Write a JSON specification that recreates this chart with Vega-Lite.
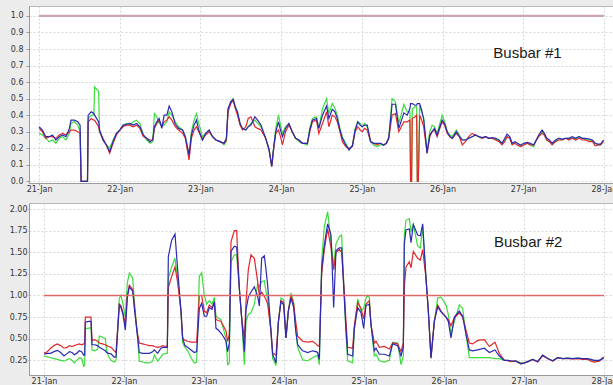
{
  "$schema": "https://vega.github.io/schema/vega-lite/v6.json",
  "background": "#ececec",
  "padding": {"left": 7, "top": 5, "right": 0, "bottom": 0},
  "spacing": 6,
  "datasets": {
    "busbar1": [
      {"h":0,"r":0.32,"g":0.29,"b":0.33},{"h":1,"r":0.30,"g":0.28,"b":0.31},{"h":2,"r":0.26,"g":0.26,"b":0.27},
      {"h":3,"r":0.27,"g":0.24,"b":0.27},{"h":4,"r":0.27,"g":0.25,"b":0.28},{"h":5,"r":0.26,"g":0.23,"b":0.25},
      {"h":6,"r":0.28,"g":0.26,"b":0.27},{"h":7,"r":0.29,"g":0.27,"b":0.28},{"h":8,"r":0.28,"g":0.25,"b":0.27},
      {"h":9,"r":0.30,"g":0.29,"b":0.32},{"h":9.5,"r":0.31,"g":0.35,"b":0.37},{"h":10.5,"r":0.31,"g":0.36,"b":0.37},
      {"h":11.5,"r":0.30,"g":0.34,"b":0.36},{"h":12.2,"r":0.29,"g":0.30,"b":0.34},{"h":12.5,"r":0,"g":0,"b":0},
      {"h":14.4,"r":0,"g":0,"b":0},{"h":14.6,"r":0.36,"g":0.38,"b":0.40},{"h":15.5,"r":0.38,"g":0.40,"b":0.42},
      {"h":16.3,"r":0.37,"g":0.40,"b":0.41},{"h":16.5,"r":0.37,"g":0.57,"b":0.40},{"h":17.7,"r":0.33,"g":0.545,"b":0.36},
      {"h":18.0,"r":0.30,"g":0.30,"b":0.31},{"h":19,"r":0.26,"g":0.25,"b":0.25},{"h":20,"r":0.22,"g":0.22,"b":0.22},
      {"h":21,"r":0.17,"g":0.20,"b":0.18},{"h":22,"r":0.23,"g":0.25,"b":0.24},{"h":23,"r":0.28,"g":0.29,"b":0.29},
      {"h":24,"r":0.31,"g":0.31,"b":0.31},{"h":25,"r":0.33,"g":0.34,"b":0.34},{"h":26,"r":0.34,"g":0.35,"b":0.345},
      {"h":27,"r":0.34,"g":0.34,"b":0.35},{"h":28,"r":0.33,"g":0.36,"b":0.34},{"h":29,"r":0.34,"g":0.37,"b":0.35},
      {"h":30,"r":0.32,"g":0.35,"b":0.33},{"h":31,"r":0.27,"g":0.28,"b":0.28},{"h":32,"r":0.26,"g":0.25,"b":0.26},
      {"h":33,"r":0.25,"g":0.23,"b":0.24},{"h":33.8,"r":0.25,"g":0.24,"b":0.25},{"h":34.3,"r":0.32,"g":0.41,"b":0.33},
      {"h":35,"r":0.35,"g":0.39,"b":0.36},{"h":35.7,"r":0.37,"g":0.35,"b":0.38},{"h":36.5,"r":0.33,"g":0.34,"b":0.32},
      {"h":37.2,"r":0.36,"g":0.34,"b":0.40},{"h":38,"r":0.37,"g":0.36,"b":0.40},{"h":38.7,"r":0.39,"g":0.42,"b":0.455},
      {"h":39.5,"r":0.37,"g":0.40,"b":0.42},{"h":40.5,"r":0.33,"g":0.36,"b":0.345},{"h":41.5,"r":0.31,"g":0.33,"b":0.32},
      {"h":42.7,"r":0.29,"g":0.31,"b":0.31},{"h":43.5,"r":0.26,"g":0.27,"b":0.27},{"h":44.6,"r":0.13,"g":0.16,"b":0.16},
      {"h":45.3,"r":0.26,"g":0.30,"b":0.28},{"h":46.1,"r":0.31,"g":0.37,"b":0.34},{"h":46.8,"r":0.33,"g":0.41,"b":0.37},
      {"h":47.5,"r":0.30,"g":0.35,"b":0.31},{"h":48.6,"r":0.25,"g":0.27,"b":0.25},{"h":49.5,"r":0.28,"g":0.29,"b":0.29},
      {"h":50.6,"r":0.30,"g":0.30,"b":0.31},{"h":51.6,"r":0.27,"g":0.27,"b":0.27},{"h":52.6,"r":0.25,"g":0.25,"b":0.25},
      {"h":53.8,"r":0.24,"g":0.24,"b":0.24},{"h":55,"r":0.23,"g":0.22,"b":0.23},{"h":55.7,"r":0.25,"g":0.24,"b":0.26},
      {"h":56.2,"r":0.42,"g":0.43,"b":0.44},{"h":57,"r":0.47,"g":0.48,"b":0.48},{"h":57.7,"r":0.49,"g":0.50,"b":0.495},
      {"h":58.4,"r":0.44,"g":0.44,"b":0.45},{"h":59,"r":0.40,"g":0.42,"b":0.42},{"h":59.8,"r":0.34,"g":0.34,"b":0.35},
      {"h":60.5,"r":0.31,"g":0.32,"b":0.32},{"h":61.5,"r":0.33,"g":0.31,"b":0.31},{"h":62.2,"r":0.38,"g":0.33,"b":0.33},
      {"h":63,"r":0.39,"g":0.35,"b":0.34},{"h":64.2,"r":0.33,"g":0.37,"b":0.39},{"h":65,"r":0.32,"g":0.35,"b":0.37},
      {"h":66,"r":0.31,"g":0.33,"b":0.34},{"h":67.4,"r":0.26,"g":0.26,"b":0.26},{"h":68.4,"r":0.19,"g":0.20,"b":0.19},
      {"h":69.2,"r":0.09,"g":0.09,"b":0.09},{"h":69.8,"r":0.20,"g":0.21,"b":0.21},{"h":70.4,"r":0.29,"g":0.32,"b":0.30},
      {"h":71.2,"r":0.31,"g":0.40,"b":0.36},{"h":71.8,"r":0.27,"g":0.34,"b":0.31},{"h":72.4,"r":0.22,"g":0.29,"b":0.27},
      {"h":73.3,"r":0.30,"g":0.33,"b":0.32},{"h":74.3,"r":0.34,"g":0.35,"b":0.35},{"h":75.3,"r":0.30,"g":0.30,"b":0.30},
      {"h":76.3,"r":0.26,"g":0.26,"b":0.26},{"h":77.3,"r":0.25,"g":0.24,"b":0.25},{"h":78.3,"r":0.23,"g":0.23,"b":0.23},
      {"h":79.8,"r":0.23,"g":0.22,"b":0.23},{"h":80.5,"r":0.30,"g":0.32,"b":0.31},{"h":81.3,"r":0.36,"g":0.38,"b":0.37},
      {"h":82.5,"r":0.37,"g":0.39,"b":0.38},{"h":83.2,"r":0.29,"g":0.32,"b":0.32},{"h":84.3,"r":0.35,"g":0.44,"b":0.40},
      {"h":85.5,"r":0.42,"g":0.50,"b":0.455},{"h":86.2,"r":0.33,"g":0.41,"b":0.38},{"h":87.2,"r":0.40,"g":0.47,"b":0.436},
      {"h":88,"r":0.39,"g":0.44,"b":0.42},{"h":88.7,"r":0.36,"g":0.40,"b":0.38},{"h":89.5,"r":0.30,"g":0.32,"b":0.31},
      {"h":90.2,"r":0.24,"g":0.27,"b":0.26},{"h":91.2,"r":0.21,"g":0.23,"b":0.22},{"h":92.2,"r":0.20,"g":0.19,"b":0.19},
      {"h":93.2,"r":0.21,"g":0.22,"b":0.215},{"h":94.0,"r":0.30,"g":0.32,"b":0.31},{"h":94.8,"r":0.33,"g":0.36,"b":0.36},
      {"h":95.5,"r":0.31,"g":0.35,"b":0.34},{"h":96.1,"r":0.30,"g":0.33,"b":0.33},{"h":96.8,"r":0.32,"g":0.35,"b":0.34},
      {"h":97.6,"r":0.31,"g":0.33,"b":0.34},{"h":98.6,"r":0.24,"g":0.24,"b":0.24},{"h":99.5,"r":0.23,"g":0.22,"b":0.23},
      {"h":100.5,"r":0.22,"g":0.21,"b":0.23},{"h":101.5,"r":0.23,"g":0.22,"b":0.23},{"h":102.5,"r":0.22,"g":0.22,"b":0.22},
      {"h":103.3,"r":0.23,"g":0.23,"b":0.23},{"h":104,"r":0.26,"g":0.27,"b":0.26},{"h":105,"r":0.40,"g":0.50,"b":0.466},
      {"h":106,"r":0.41,"g":0.48,"b":0.466},{"h":107,"r":0.30,"g":0.35,"b":0.32},{"h":108.5,"r":0.36,"g":0.466,"b":0.414},
      {"h":109.5,"r":0.36,"g":0.42,"b":0.40},{"h":110.3,"r":0.37,"g":0.42,"b":0.44},{"h":110.5,"r":0,"g":0,"b":0.47},
      {"h":110.8,"r":0,"g":0,"b":0.47},{"h":111,"r":0.38,"g":0.44,"b":0.47},{"h":111.8,"r":0.39,"g":0.45,"b":0.46},
      {"h":112.3,"r":0.40,"g":0.45,"b":0.46},{"h":112.5,"r":0,"g":0,"b":0.47},{"h":112.8,"r":0,"g":0,"b":0.47},
      {"h":113.2,"r":0.40,"g":0.46,"b":0.47},{"h":113.8,"r":0.37,"g":0.42,"b":0.43},{"h":114.4,"r":0.33,"g":0.38,"b":0.374},
      {"h":115.4,"r":0.17,"g":0.18,"b":0.17},{"h":116.2,"r":0.27,"g":0.30,"b":0.28},{"h":116.9,"r":0.30,"g":0.34,"b":0.30},
      {"h":117.6,"r":0.31,"g":0.33,"b":0.32},{"h":118.4,"r":0.27,"g":0.29,"b":0.28},{"h":119.2,"r":0.32,"g":0.35,"b":0.33},
      {"h":119.9,"r":0.36,"g":0.40,"b":0.37},{"h":120.6,"r":0.34,"g":0.36,"b":0.35},{"h":121.4,"r":0.29,"g":0.30,"b":0.30},
      {"h":122.2,"r":0.27,"g":0.28,"b":0.27},{"h":122.9,"r":0.26,"g":0.27,"b":0.26},{"h":124.1,"r":0.29,"g":0.31,"b":0.30},
      {"h":125,"r":0.27,"g":0.28,"b":0.27},{"h":125.9,"r":0.22,"g":0.25,"b":0.25},{"h":126.8,"r":0.24,"g":0.25,"b":0.25},
      {"h":127.8,"r":0.27,"g":0.26,"b":0.26},{"h":128.8,"r":0.29,"g":0.27,"b":0.27},{"h":129.8,"r":0.28,"g":0.28,"b":0.28},
      {"h":130.8,"r":0.27,"g":0.27,"b":0.27},{"h":131.8,"r":0.26,"g":0.26,"b":0.265},{"h":132.8,"r":0.27,"g":0.27,"b":0.27},
      {"h":133.8,"r":0.26,"g":0.26,"b":0.26},{"h":134.8,"r":0.26,"g":0.26,"b":0.265},{"h":135.8,"r":0.25,"g":0.255,"b":0.26},
      {"h":136.8,"r":0.24,"g":0.245,"b":0.25},{"h":137.7,"r":0.22,"g":0.23,"b":0.23},{"h":138.5,"r":0.24,"g":0.25,"b":0.26},
      {"h":139.2,"r":0.27,"g":0.27,"b":0.285},{"h":140,"r":0.26,"g":0.26,"b":0.27},{"h":140.7,"r":0.22,"g":0.23,"b":0.23},
      {"h":141.5,"r":0.23,"g":0.23,"b":0.24},{"h":142.3,"r":0.22,"g":0.22,"b":0.23},{"h":143.2,"r":0.21,"g":0.21,"b":0.22},
      {"h":144.2,"r":0.22,"g":0.22,"b":0.23},{"h":145.2,"r":0.23,"g":0.23,"b":0.235},{"h":146.1,"r":0.22,"g":0.22,"b":0.23},
      {"h":147.1,"r":0.22,"g":0.21,"b":0.22},{"h":147.9,"r":0.25,"g":0.25,"b":0.25},{"h":148.6,"r":0.27,"g":0.27,"b":0.28},
      {"h":149.6,"r":0.29,"g":0.30,"b":0.31},{"h":150.3,"r":0.28,"g":0.28,"b":0.29},{"h":151,"r":0.25,"g":0.25,"b":0.26},
      {"h":151.8,"r":0.24,"g":0.24,"b":0.25},{"h":152.6,"r":0.22,"g":0.23,"b":0.23},{"h":153.6,"r":0.24,"g":0.24,"b":0.25},
      {"h":154.6,"r":0.25,"g":0.26,"b":0.26},{"h":155.6,"r":0.25,"g":0.25,"b":0.255},{"h":156.6,"r":0.26,"g":0.26,"b":0.26},
      {"h":157.6,"r":0.25,"g":0.26,"b":0.26},{"h":158.6,"r":0.26,"g":0.26,"b":0.27},{"h":159.6,"r":0.25,"g":0.26,"b":0.26},
      {"h":160.6,"r":0.26,"g":0.27,"b":0.27},{"h":161.6,"r":0.25,"g":0.26,"b":0.26},{"h":162.6,"r":0.25,"g":0.25,"b":0.26},
      {"h":163.6,"r":0.24,"g":0.25,"b":0.255},{"h":164.6,"r":0.24,"g":0.245,"b":0.25},{"h":165.4,"r":0.215,"g":0.23,"b":0.23},
      {"h":166.2,"r":0.22,"g":0.22,"b":0.225},{"h":167,"r":0.22,"g":0.22,"b":0.225},{"h":167.9,"r":0.24,"g":0.25,"b":0.25}
    ],
    "busbar2": [
      {"h":0,"r":0.33,"g":0.30,"b":0.32},{"h":1,"r":0.35,"g":0.29,"b":0.33},{"h":2,"r":0.39,"g":0.28,"b":0.33},
      {"h":3,"r":0.42,"g":0.27,"b":0.35},{"h":4,"r":0.44,"g":0.26,"b":0.365},{"h":5,"r":0.42,"g":0.25,"b":0.34},
      {"h":6,"r":0.39,"g":0.24,"b":0.30},{"h":7,"r":0.40,"g":0.26,"b":0.33},{"h":7.6,"r":0.42,"g":0.27,"b":0.35},
      {"h":8.4,"r":0.41,"g":0.25,"b":0.34},{"h":9.1,"r":0.42,"g":0.22,"b":0.315},{"h":9.8,"r":0.43,"g":0.25,"b":0.33},
      {"h":10.6,"r":0.44,"g":0.28,"b":0.36},{"h":11.3,"r":0.43,"g":0.27,"b":0.35},{"h":11.9,"r":0.44,"g":0.18,"b":0.31},
      {"h":12.2,"r":0.44,"g":0.19,"b":0.31},{"h":12.4,"r":0.75,"g":0.62,"b":0.69},{"h":13.3,"r":0.75,"g":0.62,"b":0.70},
      {"h":14.1,"r":0.75,"g":0.63,"b":0.70},{"h":14.4,"r":0.48,"g":0.37,"b":0.43},{"h":15.2,"r":0.49,"g":0.36,"b":0.43},
      {"h":16.1,"r":0.47,"g":0.38,"b":0.42},{"h":16.6,"r":0.45,"g":0.53,"b":0.40},{"h":17.5,"r":0.44,"g":0.52,"b":0.38},
      {"h":18.4,"r":0.43,"g":0.50,"b":0.36},{"h":18.8,"r":0.42,"g":0.36,"b":0.34},{"h":19.4,"r":0.41,"g":0.29,"b":0.33},
      {"h":20.1,"r":0.40,"g":0.25,"b":0.325},{"h":21.1,"r":0.36,"g":0.23,"b":0.285},{"h":21.6,"r":0.34,"g":0.25,"b":0.29},
      {"h":22.6,"r":0.90,"g":0.97,"b":0.89},{"h":23.1,"r":0.88,"g":1.0,"b":0.86},{"h":23.7,"r":0.80,"g":0.90,"b":0.78},
      {"h":24.4,"r":0.66,"g":0.75,"b":0.60},{"h":25,"r":1.0,"g":1.15,"b":0.98},{"h":25.6,"r":1.12,"g":1.26,"b":1.10},
      {"h":26.6,"r":1.07,"g":1.20,"b":1.05},{"h":27.2,"r":0.85,"g":0.90,"b":0.82},{"h":27.9,"r":0.59,"g":0.59,"b":0.585},
      {"h":28.6,"r":0.45,"g":0.24,"b":0.34},{"h":29.6,"r":0.44,"g":0.23,"b":0.33},{"h":30.6,"r":0.43,"g":0.22,"b":0.33},
      {"h":31.6,"r":0.42,"g":0.22,"b":0.33},{"h":32.6,"r":0.42,"g":0.24,"b":0.35},{"h":33.1,"r":0.41,"g":0.31,"b":0.37},
      {"h":34.1,"r":0.40,"g":0.24,"b":0.33},{"h":35.1,"r":0.41,"g":0.29,"b":0.39},{"h":35.6,"r":0.42,"g":0.32,"b":0.40},
      {"h":36.6,"r":0.41,"g":0.33,"b":0.40},{"h":37,"r":0.42,"g":0.33,"b":0.40},{"h":37.3,"r":1.09,"g":1.20,"b":1.45},
      {"h":38.3,"r":1.22,"g":1.33,"b":1.64},{"h":39.3,"r":1.33,"g":1.43,"b":1.71},{"h":40.1,"r":1.15,"g":1.20,"b":1.30},
      {"h":41.1,"r":0.82,"g":0.80,"b":0.82},{"h":41.6,"r":0.51,"g":0.45,"b":0.50},{"h":42.3,"r":0.48,"g":0.40,"b":0.42},
      {"h":43.1,"r":0.47,"g":0.36,"b":0.40},{"h":44.1,"r":0.46,"g":0.28,"b":0.37},{"h":45.1,"r":0.46,"g":0.22,"b":0.34},
      {"h":45.8,"r":0.46,"g":0.23,"b":0.35},{"h":46.6,"r":1.00,"g":1.22,"b":0.85},{"h":47.3,"r":1.0,"g":1.265,"b":0.91},
      {"h":48.1,"r":0.82,"g":1.0,"b":0.76},{"h":48.8,"r":0.80,"g":0.90,"b":0.76},{"h":49.6,"r":0.89,"g":0.94,"b":0.86},
      {"h":50.4,"r":0.86,"g":0.90,"b":0.84},{"h":51.1,"r":0.91,"g":0.98,"b":0.93},{"h":51.6,"r":0.72,"g":0.76,"b":0.62},
      {"h":52.3,"r":0.71,"g":0.74,"b":0.60},{"h":53.1,"r":0.70,"g":0.72,"b":0.565},{"h":53.9,"r":0.64,"g":0.60,"b":0.52},
      {"h":54.6,"r":0.59,"g":0.50,"b":0.47},{"h":55.1,"r":0.47,"g":0.20,"b":0.35},{"h":55.6,"r":0.55,"g":0.22,"b":0.45},
      {"h":56.1,"r":1.62,"g":1.39,"b":1.51},{"h":57.1,"r":1.75,"g":1.47,"b":1.57},{"h":57.8,"r":1.75,"g":1.47,"b":1.56},
      {"h":58.6,"r":1.08,"g":1.08,"b":1.08},{"h":59.3,"r":0.74,"g":0.74,"b":0.74},{"h":60.1,"r":0.50,"g":0.20,"b":0.35},
      {"h":60.6,"r":0.92,"g":0.70,"b":0.83},{"h":61.3,"r":1.30,"g":0.78,"b":0.98},{"h":62.1,"r":1.47,"g":0.80,"b":1.04},
      {"h":63.1,"r":1.43,"g":0.90,"b":1.10},{"h":64.1,"r":1.16,"g":1.13,"b":0.99},{"h":64.6,"r":1.0,"g":1.10,"b":0.88},
      {"h":65.3,"r":1.04,"g":1.16,"b":1.43},{"h":66.1,"r":0.99,"g":1.17,"b":1.46},{"h":66.6,"r":0.95,"g":1.05,"b":1.30},
      {"h":67.1,"r":0.90,"g":0.95,"b":1.12},{"h":68.1,"r":0.585,"g":0.585,"b":0.585},{"h":68.6,"r":0.33,"g":0.27,"b":0.32},
      {"h":69.6,"r":0.31,"g":0.19,"b":0.22},{"h":70.3,"r":0.69,"g":0.69,"b":0.69},{"h":71.1,"r":0.94,"g":0.97,"b":0.93},
      {"h":71.9,"r":0.92,"g":0.95,"b":0.89},{"h":72.6,"r":0.51,"g":0.51,"b":0.51},{"h":73.3,"r":0.82,"g":0.82,"b":0.82},
      {"h":74.1,"r":1.0,"g":1.03,"b":0.97},{"h":74.9,"r":0.90,"g":0.92,"b":0.86},{"h":75.5,"r":0.70,"g":0.60,"b":0.60},
      {"h":76.1,"r":0.53,"g":0.40,"b":0.43},{"h":77.6,"r":0.47,"g":0.255,"b":0.36},{"h":79.1,"r":0.46,"g":0.245,"b":0.34},
      {"h":80.6,"r":0.47,"g":0.28,"b":0.36},{"h":81.6,"r":0.44,"g":0.30,"b":0.35},{"h":82.1,"r":0.42,"g":0.31,"b":0.34},
      {"h":82.6,"r":0.41,"g":0.20,"b":0.26},{"h":83.3,"r":1.25,"g":1.40,"b":1.31},{"h":84.1,"r":1.53,"g":1.80,"b":1.585},
      {"h":85.1,"r":1.77,"g":1.97,"b":1.83},{"h":86.1,"r":1.55,"g":1.63,"b":1.70},{"h":86.9,"r":1.30,"g":1.35,"b":0.86},
      {"h":87.6,"r":1.50,"g":1.60,"b":1.52},{"h":88.6,"r":1.53,"g":1.68,"b":1.55},{"h":89.3,"r":1.50,"g":1.70,"b":1.55},
      {"h":90.1,"r":1.03,"g":1.0,"b":0.96},{"h":90.6,"r":0.70,"g":0.55,"b":0.60},{"h":91.1,"r":0.40,"g":0.245,"b":0.32},
      {"h":92.6,"r":0.39,"g":0.22,"b":0.30},{"h":93.1,"r":0.65,"g":0.60,"b":0.62},{"h":94.1,"r":0.92,"g":0.96,"b":0.86},
      {"h":95.1,"r":0.85,"g":0.82,"b":0.80},{"h":95.9,"r":0.73,"g":0.85,"b":0.62},{"h":96.6,"r":0.90,"g":0.97,"b":0.89},
      {"h":97.1,"r":0.92,"g":1.0,"b":0.89},{"h":97.6,"r":0.94,"g":0.98,"b":0.90},{"h":98.1,"r":0.66,"g":0.66,"b":0.66},
      {"h":99.1,"r":0.45,"g":0.30,"b":0.36},{"h":99.6,"r":0.47,"g":0.32,"b":0.39},{"h":100.6,"r":0.40,"g":0.245,"b":0.32},
      {"h":102.1,"r":0.41,"g":0.23,"b":0.32},{"h":103.6,"r":0.38,"g":0.25,"b":0.30},{"h":104.6,"r":0.45,"g":0.46,"b":0.44},
      {"h":106.1,"r":0.44,"g":0.45,"b":0.42},{"h":107.1,"r":0.35,"g":0.20,"b":0.30},{"h":107.8,"r":0.45,"g":0.30,"b":0.40},
      {"h":108.1,"r":1.10,"g":1.70,"b":1.60},{"h":108.6,"r":1.33,"g":1.87,"b":1.76},{"h":109.6,"r":1.39,"g":1.89,"b":1.77},
      {"h":110.1,"r":1.32,"g":1.74,"b":1.61},{"h":110.8,"r":1.51,"g":1.82,"b":1.82},{"h":112.1,"r":1.43,"g":1.57,"b":1.70},
      {"h":112.9,"r":1.41,"g":1.55,"b":1.69},{"h":113.6,"r":1.53,"g":1.80,"b":1.83},{"h":114.6,"r":1.20,"g":1.20,"b":1.20},
      {"h":115.3,"r":0.82,"g":0.82,"b":0.82},{"h":116.1,"r":0.28,"g":0.27,"b":0.28},{"h":117.1,"r":0.70,"g":0.70,"b":0.70},
      {"h":118.1,"r":0.89,"g":0.97,"b":0.87},{"h":119.1,"r":0.82,"g":0.98,"b":0.81},{"h":120.6,"r":0.75,"g":0.89,"b":0.75},
      {"h":121.3,"r":0.72,"g":0.78,"b":0.70},{"h":122.1,"r":0.65,"g":0.55,"b":0.51},{"h":123.1,"r":0.74,"g":0.70,"b":0.75},
      {"h":124.6,"r":0.80,"g":0.89,"b":0.82},{"h":125.6,"r":0.75,"g":0.85,"b":0.76},{"h":126.6,"r":0.60,"g":0.55,"b":0.55},
      {"h":127.6,"r":0.45,"g":0.28,"b":0.37},{"h":128.6,"r":0.44,"g":0.28,"b":0.36},{"h":130.1,"r":0.48,"g":0.28,"b":0.37},
      {"h":132.1,"r":0.49,"g":0.28,"b":0.39},{"h":133.6,"r":0.41,"g":0.28,"b":0.34},{"h":135.3,"r":0.46,"g":0.27,"b":0.37},
      {"h":136.6,"r":0.33,"g":0.27,"b":0.30},{"h":138.1,"r":0.25,"g":0.25,"b":0.25},{"h":139.1,"r":0.245,"g":0.25,"b":0.25},
      {"h":140.1,"r":0.235,"g":0.245,"b":0.245},{"h":141.6,"r":0.24,"g":0.24,"b":0.24},{"h":143.1,"r":0.21,"g":0.22,"b":0.21},
      {"h":144.1,"r":0.22,"g":0.22,"b":0.22},{"h":145.1,"r":0.23,"g":0.235,"b":0.235},{"h":146.6,"r":0.26,"g":0.26,"b":0.26},
      {"h":148.1,"r":0.23,"g":0.235,"b":0.235},{"h":149.6,"r":0.30,"g":0.31,"b":0.31},{"h":151.1,"r":0.27,"g":0.27,"b":0.27},
      {"h":152.6,"r":0.24,"g":0.245,"b":0.245},{"h":154.1,"r":0.28,"g":0.28,"b":0.28},{"h":155.6,"r":0.27,"g":0.27,"b":0.27},
      {"h":157.1,"r":0.27,"g":0.275,"b":0.275},{"h":158.6,"r":0.265,"g":0.27,"b":0.27},{"h":160.1,"r":0.27,"g":0.275,"b":0.275},
      {"h":161.6,"r":0.26,"g":0.27,"b":0.27},{"h":163.1,"r":0.26,"g":0.27,"b":0.27},{"h":164.1,"r":0.24,"g":0.25,"b":0.26},
      {"h":165.1,"r":0.23,"g":0.24,"b":0.25},{"h":166.6,"r":0.24,"g":0.25,"b":0.25},{"h":167.9,"r":0.29,"g":0.28,"b":0.275}
    ]
  },
  "vconcat": [
    {
      "width": 585,
      "height": 177,
      "data": {"name": "busbar1"},
      "encoding": {
        "x": {
          "field": "h", "type": "quantitative", "title": null,
          "scale": {"domain": [-3, 171], "nice": false, "zero": false},
          "axis": {
            "values": [0, 24, 48, 72, 96, 120, 144, 168],
            "labelExpr": "timeFormat(datetime(2013, 0, 21 + datum.value / 24), '%d-%b')",
            "tickSize": 2, "labelPadding": 0, "minExtent": 12, "maxExtent": 12
          }
        }
      },
      "layer": [
        {
          "mark": {"type": "line", "strokeWidth": 1.2, "clip": true},
          "encoding": {"y": {"field": "g", "type": "quantitative", "title": null, "scale": {"domain": [-0.01, 1.06], "nice": false, "zero": false},
            "axis": {"values": [0, 0.1, 0.2, 0.3, 0.4, 0.5, 0.6, 0.7, 0.8, 0.9, 1.0], "format": ".1f", "tickSize": 3, "labelPadding": 3, "labelOverlap": false, "minExtent": 21, "maxExtent": 21}},
            "stroke": {"value": "#3ddc3d"}}
        },
        {
          "mark": {"type": "line", "strokeWidth": 1.2, "clip": true},
          "encoding": {"y": {"field": "r", "type": "quantitative", "title": null, "scale": {"domain": [-0.01, 1.06], "nice": false, "zero": false},
            "axis": {"values": [0, 0.1, 0.2, 0.3, 0.4, 0.5, 0.6, 0.7, 0.8, 0.9, 1.0], "format": ".1f", "tickSize": 3, "labelPadding": 3, "labelOverlap": false, "minExtent": 21, "maxExtent": 21}},
            "stroke": {"value": "#e3262b"}}
        },
        {
          "mark": {"type": "line", "strokeWidth": 1.2, "clip": true},
          "encoding": {"y": {"field": "b", "type": "quantitative", "title": null, "scale": {"domain": [-0.01, 1.06], "nice": false, "zero": false},
            "axis": {"values": [0, 0.1, 0.2, 0.3, 0.4, 0.5, 0.6, 0.7, 0.8, 0.9, 1.0], "format": ".1f", "tickSize": 3, "labelPadding": 3, "labelOverlap": false, "minExtent": 21, "maxExtent": 21}},
            "stroke": {"value": "#2a2ab5"}}
        },
        {
          "data": {"values": [{"h": 0, "v": 1}, {"h": 168, "v": 1}]},
          "mark": {"type": "line", "strokeWidth": 2.2},
          "encoding": {
            "y": {"field": "v", "type": "quantitative", "title": null, "scale": {"domain": [-0.01, 1.06], "nice": false, "zero": false},
              "axis": {"values": [0, 0.1, 0.2, 0.3, 0.4, 0.5, 0.6, 0.7, 0.8, 0.9, 1.0], "format": ".1f", "tickSize": 3, "labelPadding": 3, "labelOverlap": false, "minExtent": 21, "maxExtent": 21}},
            "stroke": {"value": "#cba4ae"}
          }
        },
        {
          "data": {"values": [{"h": 135.1, "v": 0.776, "label": "Busbar #1"}]},
          "mark": {"type": "text", "align": "left", "baseline": "middle", "font": "Liberation Sans", "fontSize": 15, "color": "#1a1a1a"},
          "encoding": {"y": {"field": "v", "type": "quantitative", "title": null, "scale": {"domain": [-0.01, 1.06], "nice": false, "zero": false},
            "axis": {"values": [0, 0.1, 0.2, 0.3, 0.4, 0.5, 0.6, 0.7, 0.8, 0.9, 1.0], "format": ".1f", "tickSize": 3, "labelPadding": 3, "labelOverlap": false, "minExtent": 21, "maxExtent": 21}}, "text": {"field": "label"}}
        }
      ]
    },
    {
      "width": 585,
      "height": 172,
      "data": {"name": "busbar2"},
      "encoding": {
        "x": {
          "field": "h", "type": "quantitative", "title": null,
          "scale": {"domain": [-4.5, 171], "nice": false, "zero": false},
          "axis": {
            "values": [0, 24, 48, 72, 96, 120, 144, 168],
            "labelExpr": "timeFormat(datetime(2013, 0, 21 + datum.value / 24), '%d-%b')",
            "tickSize": 2, "labelPadding": 0, "minExtent": 12, "maxExtent": 12
          }
        }
      },
      "layer": [
        {
          "mark": {"type": "line", "strokeWidth": 1.2, "clip": true},
          "encoding": {"y": {"field": "g", "type": "quantitative", "title": null, "scale": {"domain": [0.08, 2.07], "nice": false, "zero": false},
            "axis": {"values": [0.25, 0.5, 0.75, 1.0, 1.25, 1.5, 1.75, 2.0], "format": ".2f", "tickSize": 1, "labelPadding": 1, "labelOverlap": false, "minExtent": 21, "maxExtent": 21}},
            "stroke": {"value": "#3ddc3d"}}
        },
        {
          "mark": {"type": "line", "strokeWidth": 1.2, "clip": true},
          "encoding": {"y": {"field": "r", "type": "quantitative", "title": null, "scale": {"domain": [0.08, 2.07], "nice": false, "zero": false},
            "axis": {"values": [0.25, 0.5, 0.75, 1.0, 1.25, 1.5, 1.75, 2.0], "format": ".2f", "tickSize": 1, "labelPadding": 1, "labelOverlap": false, "minExtent": 21, "maxExtent": 21}},
            "stroke": {"value": "#e3262b"}}
        },
        {
          "mark": {"type": "line", "strokeWidth": 1.2, "clip": true},
          "encoding": {"y": {"field": "b", "type": "quantitative", "title": null, "scale": {"domain": [0.08, 2.07], "nice": false, "zero": false},
            "axis": {"values": [0.25, 0.5, 0.75, 1.0, 1.25, 1.5, 1.75, 2.0], "format": ".2f", "tickSize": 1, "labelPadding": 1, "labelOverlap": false, "minExtent": 21, "maxExtent": 21}},
            "stroke": {"value": "#2a2ab5"}}
        },
        {
          "data": {"values": [{"h": 0, "v": 1}, {"h": 168, "v": 1}]},
          "mark": {"type": "line", "strokeWidth": 1.6},
          "encoding": {
            "y": {"field": "v", "type": "quantitative", "title": null, "scale": {"domain": [0.08, 2.07], "nice": false, "zero": false},
              "axis": {"values": [0.25, 0.5, 0.75, 1.0, 1.25, 1.5, 1.75, 2.0], "format": ".2f", "tickSize": 1, "labelPadding": 1, "labelOverlap": false, "minExtent": 21, "maxExtent": 21}},
            "stroke": {"value": "#e06a6a"}
          }
        },
        {
          "data": {"values": [{"h": 135, "v": 1.623, "label": "Busbar #2"}]},
          "mark": {"type": "text", "align": "left", "baseline": "middle", "font": "Liberation Sans", "fontSize": 15, "color": "#1a1a1a"},
          "encoding": {"y": {"field": "v", "type": "quantitative", "title": null, "scale": {"domain": [0.08, 2.07], "nice": false, "zero": false},
            "axis": {"values": [0.25, 0.5, 0.75, 1.0, 1.25, 1.5, 1.75, 2.0], "format": ".2f", "tickSize": 1, "labelPadding": 1, "labelOverlap": false, "minExtent": 21, "maxExtent": 21}}, "text": {"field": "label"}}
        }
      ]
    }
  ],
  "config": {
    "view": {"fill": "white", "stroke": "#b8b8b8", "strokeWidth": 1},
    "axis": {
      "labelFont": "DejaVu Sans", "labelFontSize": 8, "labelColor": "#333333",
      "domainColor": "#9a9a9a", "tickColor": "#9a9a9a",
      "gridColor": "#d6d6d6", "gridDash": [2, 2], "labelFlush": false, "labelOverlap": false
    }
  }
}
